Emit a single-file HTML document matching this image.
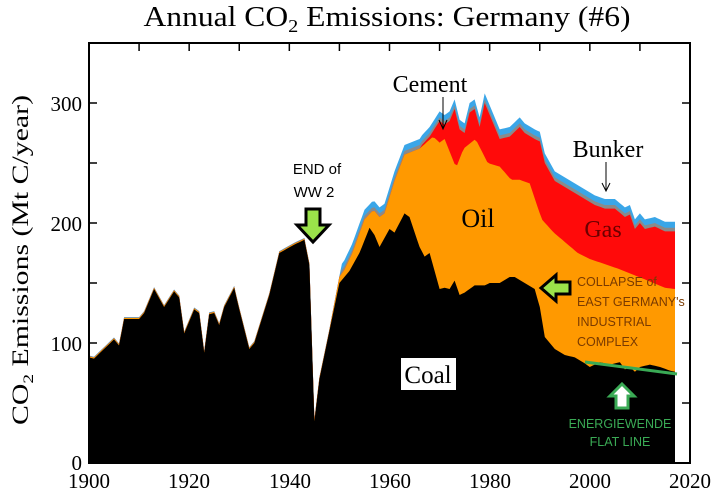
<!DOCTYPE html>
<html><head><meta charset="utf-8"><style>
html,body{margin:0;padding:0;background:#fff;}
svg{display:block;}
.s{font-family:"Liberation Serif",serif;}
.a{font-family:"Liberation Sans",sans-serif;}
</style></head><body>
<svg id="c" width="720" height="493" viewBox="0 0 720 493" xmlns="http://www.w3.org/2000/svg">
<g id="layers"></g>
<rect x="89" y="43" width="601" height="420" fill="none" stroke="#000" stroke-width="2"/>
<g id="ticks" stroke="#000" stroke-width="1.5"></g>
<text class="s" x="387" y="26" font-size="28" text-anchor="middle" textLength="487" lengthAdjust="spacingAndGlyphs">Annual CO<tspan font-size="18" dy="6">2</tspan><tspan dy="-6"> Emissions: Germany (#6)</tspan></text>
<g class="s" font-size="21" text-anchor="end">
<text x="82" y="470">0</text><text x="82" y="351">100</text><text x="82" y="231">200</text><text x="82" y="111">300</text>
</g>
<g class="s" font-size="21" text-anchor="middle">
<text x="89" y="488">1900</text><text x="189" y="488">1920</text><text x="290" y="488">1940</text><text x="390" y="488">1960</text><text x="490" y="488">1980</text><text x="590" y="488">2000</text><text x="690" y="488">2020</text>
</g>
<text class="s" font-size="23" transform="translate(28,260) rotate(-90)" text-anchor="middle" textLength="330" lengthAdjust="spacingAndGlyphs">CO<tspan font-size="15" dy="5">2</tspan><tspan dy="-5"> Emissions (Mt C/year)</tspan></text>
<text class="s" x="430" y="92" font-size="24" text-anchor="middle">Cement</text>
<path d="M443 97 L443 128 M439 120 L443 129 L447 120" stroke="#000" fill="none" stroke-width="1"/>
<text class="s" x="608" y="157" font-size="24" text-anchor="middle">Bunker</text>
<path d="M606 162 L606 190 M602 183 L606 191 L610 183" stroke="#000" fill="none" stroke-width="1"/>
<text class="s" x="478" y="227" font-size="26" text-anchor="middle">Oil</text>
<text class="s" x="603" y="237" font-size="24" text-anchor="middle" fill="#6b0000">Gas</text>
<rect x="401" y="358" width="55" height="32" fill="#fff"/>
<text class="s" x="428" y="383" font-size="25" text-anchor="middle">Coal</text>
<text class="a" x="317" y="174" font-size="15" text-anchor="middle">END of</text>
<text class="a" x="314" y="197" font-size="15" text-anchor="middle">WW 2</text>
<path d="M306 209 L320 209 L320 225 L329 225 L313 242 L297 225 L306 225 Z" fill="#9be34a" stroke="#000" stroke-width="3"/>
<path d="M541 288 L556 275 L556 282 L570 282 L570 294 L556 294 L556 301 Z" fill="#9be34a" stroke="#000" stroke-width="3"/>
<g class="a" font-size="12.5" fill="#7a3a00">
<text x="577" y="286">COLLAPSE of</text><text x="577" y="306">EAST GERMANY's</text><text x="577" y="326">INDUSTRIAL</text><text x="577" y="346">COMPLEX</text>
</g>
<path d="M585 362 L677 374" stroke="#3aaa55" stroke-width="3"/>
<path d="M622 384 L634 396 L628 396 L628 408 L616 408 L616 396 L610 396 Z" fill="#fff" stroke="#3aaa55" stroke-width="3"/>
<g class="a" font-size="12.5" fill="#3aaa55" text-anchor="middle">
<text x="620" y="428">ENERGIEWENDE</text><text x="620" y="446">FLAT LINE</text>
</g>
</svg>
<script>
function X(y){return 89+(y-1900)*601/120;}
function Y(v){return 463-v*1.2;}
var coal=[[1900,88],[1901,87],[1903,95],[1905,103],[1906,98],[1907,120],[1910,120],[1911,125],[1913,145],[1915,130],[1917,143],[1918,138],[1919,108],[1921,128],[1922,125],[1923,92],[1924,124],[1925,125],[1926,115],[1927,130],[1929,146],[1930,128],[1932,95],[1933,100],[1936,140],[1938,175],[1941,182],[1943,186],[1944,165],[1945,35],[1946,70],[1948,110],[1950,150],[1952,160],[1954,175],[1956,196],[1957,190],[1958,180],[1960,195],[1961,192],[1963,208],[1964,205],[1966,180],[1967,172],[1968,175],[1969,160],[1970,145],[1971,146],[1972,145],[1973,152],[1974,140],[1975,142],[1977,148],[1979,148],[1980,150],[1982,150],[1984,155],[1985,155],[1987,150],[1989,145],[1990,130],[1991,105],[1993,95],[1995,90],[1997,88],[1999,83],[2000,80],[2001,82],[2002,84],[2004,82],[2006,84],[2007,78],[2008,80],[2009,76],[2010,80],[2012,82],[2014,80],[2016,77],[2017,76]];
var oil=[[1948,111],[1950,155],[1951,161],[1952.6,175],[1955,203],[1956.8,211],[1958,205],[1959,208],[1961,235],[1963,257],[1966,262],[1968.7,272],[1970,267],[1971,270],[1973.3,246],[1974.8,262],[1977.2,270],[1979.6,250],[1982,247],[1984.3,236],[1986,236],[1988,233],[1990.4,203],[1992.8,192],[1997.6,175],[2000,170],[2005.6,162],[2011,153],[2015,146],[2017,145]];
var gas=[[1966,263],[1968,272],[1970,285],[1971,282],[1972,285],[1973,295],[1974,278],[1975,275],[1976,292],[1977,295],[1978,280],[1979,300],[1980,290],[1982,270],[1984,272],[1986,280],[1987,275],[1989,270],[1990,268],[1991,250],[1993,235],[1995,230],[1997,225],[1999,220],[2001,215],[2003,212],[2005,212],[2007,205],[2008,207],[2009,195],[2010,200],[2011,195],[2013,197],[2015,193],[2017,193]];
function interp(a,y){if(y<=a[0][0])return null;for(var i=1;i<a.length;i++){if(y<=a[i][0]){var t=(y-a[i-1][0])/(a[i][0]-a[i-1][0]);return a[i-1][1]+t*(a[i][1]-a[i-1][1]);}}return a[a.length-1][1];}
var yrs=[];for(var y=1900;y<=2017;y+=0.5)yrs.push(y);
var L={coal:[],oil:[],gas:[],cem:[],bun:[]};
yrs.forEach(function(y){var c=interp(coal,y);if(c===null)c=88;var o=interp(oil,y);if(o===null||o<c)o=c+0.8;var g=interp(gas,y);if(g===null||g<o)g=o;var ce=g+(y>1950?3:0.5);var b=ce+(y>1950?5:0.3);L.coal.push(c);L.oil.push(o);L.gas.push(g);L.cem.push(ce);L.bun.push(b);});
function area(top,bot){var d="M"+X(yrs[0])+" "+Y(top[0]);for(var i=1;i<yrs.length;i++)d+=" L"+X(yrs[i]).toFixed(1)+" "+Y(top[i]).toFixed(1);for(var i=yrs.length-1;i>=0;i--)d+=" L"+X(yrs[i]).toFixed(1)+" "+Y(bot?bot[i]:0).toFixed(1);return d+"Z";}
var g=document.getElementById("layers"),ns="http://www.w3.org/2000/svg";
[["bun","#3aa6e8"],["cem","#8a8a8a"],["gas","#ff0a0a"],["oil","#ff9900"],["coal","#000"]].forEach(function(p){var e=document.createElementNS(ns,"path");e.setAttribute("d",area(L[p[0]]));e.setAttribute("fill",p[1]);g.appendChild(e);});
var t=document.getElementById("ticks"),d="";
for(var yr=1910;yr<2020;yr+=10){var x=X(yr);d+="M"+x+" 463 L"+x+" 455 M"+x+" 43 L"+x+" 51 ";}
for(var v=50;v<350;v+=50){var yy=Y(v);d+="M89 "+yy+" L97 "+yy+" M690 "+yy+" L682 "+yy+" ";}
var e=document.createElementNS(ns,"path");e.setAttribute("d",d);t.appendChild(e);
</script>
</body></html>
